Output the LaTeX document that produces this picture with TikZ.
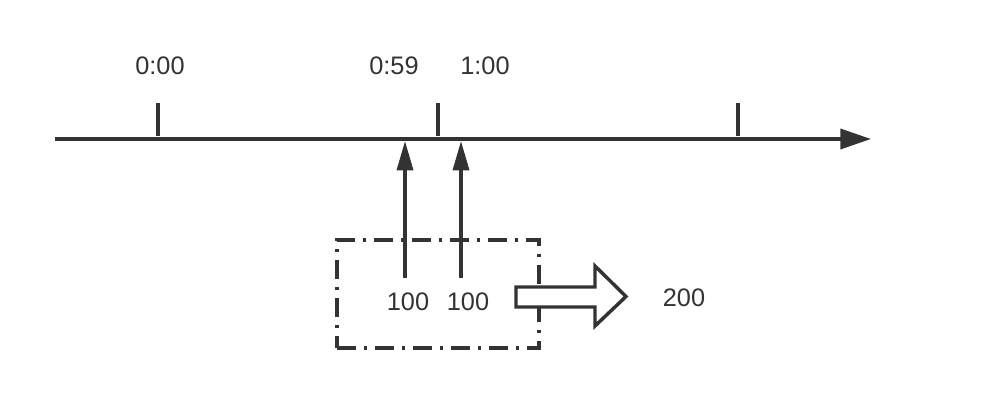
\documentclass[tikz,border=0pt]{standalone}
\usepackage{fontspec}
\setmainfont{Liberation Sans}
\usetikzlibrary{arrows.meta}
\begin{document}
\begin{tikzpicture}[x=0.75pt,y=-0.75pt,
  lbl/.style={inner sep=0pt,text=black!80,font=\fontsize{19}{22}\selectfont},
  ln/.style={draw=black!80,line width=2.6pt},
  tick/.style={draw=black!80,line width=2.6pt},
  uparrow/.style={ln,-{Triangle[length=22pt,width=12pt]}},
  dashdotbox/.style={draw=black!80,line width=2.8pt,dash pattern=on 14pt off 6pt on 2.5pt off 6pt},
  blockarrow/.style={draw=black!80,line width=2.6pt,fill=white,line join=miter}]
\useasboundingbox (0,0) rectangle (996,406);
% axis
\coordinate (a0) at (55,139);
\coordinate (a1) at (871,139);
\draw[ln,-{Triangle[length=23pt,width=15pt]}] (a0) -- (a1);
% ticks
\coordinate (t1a) at (158,103); \coordinate (t1b) at (158,136);
\coordinate (t2a) at (438,103); \coordinate (t2b) at (438,136);
\coordinate (t3a) at (738,103); \coordinate (t3b) at (738,136);
\draw[tick] (t1a) -- (t1b);
\draw[tick] (t2a) -- (t2b);
\draw[tick] (t3a) -- (t3b);
% time labels
\node[lbl] (l000) at (160,66) {0:00};
\node[lbl] (l059) at (394,66) {0:59};
\node[lbl] (l100) at (485,66) {1:00};
% dash-dot box
\node[dashdotbox,minimum width=151.5pt,minimum height=81pt,inner sep=0pt] (box) at (438,294) {};
% up arrows
\coordinate (u1s) at (405,278); \coordinate (u1e) at (405,141);
\coordinate (u2s) at (461,278); \coordinate (u2e) at (461,141);
\draw[uparrow] (u1s) -- (u1e);
\draw[uparrow] (u2s) -- (u2e);
% value labels
\node[lbl] (v1) at (408,302) {100};
\node[lbl] (v2) at (468,302) {100};
% block arrow
\draw[blockarrow] (516,287) -- (595,287) -- (595,266) -- (626,296.5) -- (595,326) -- (595,307) -- (516,307) -- cycle;
\node[lbl] (sum) at (684,298) {200};
\end{tikzpicture}
\end{document}
